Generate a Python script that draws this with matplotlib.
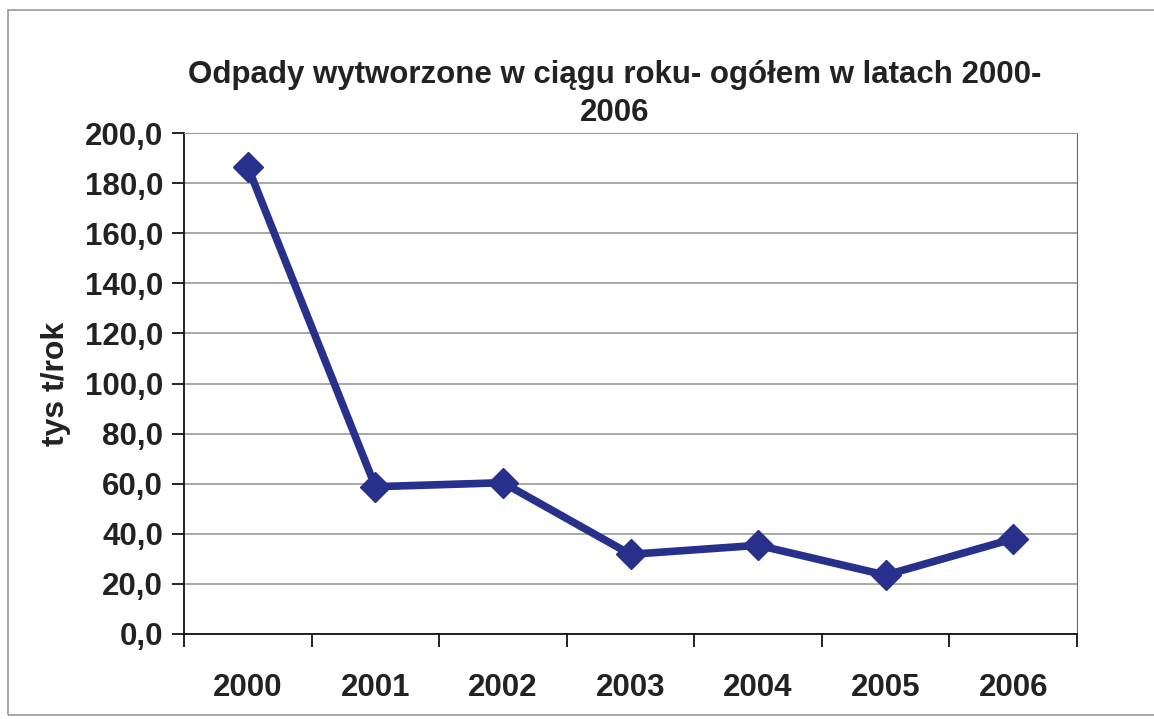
import matplotlib.pyplot as plt
import numpy as np
from matplotlib.patches import Rectangle
from matplotlib.ticker import FuncFormatter, MultipleLocator

years = ['2000', '2001', '2002', '2003', '2004', '2005', '2006']
waste = [186.5, 58.8, 60.4, 31.8, 35.4, 23.5, 38.0]  # tys t/rok

plt.rcParams['font.family'] = ['Liberation Sans', 'DejaVu Sans']

fig = plt.figure(figsize=(11.54, 7.19), dpi=100)
ax = fig.add_axes([184/1154, 1-634/719, (1077-184)/1154, (634-133)/719])

# outer frame of the chart object
fig.patches.append(Rectangle((8/1154, 4/719), 1.2, 1-14/719, transform=fig.transFigure,
                             fill=False, edgecolor='#9a9a9a', linewidth=1.2))

x = np.arange(len(years))
ax.plot(x, waste, color='#27308a', linewidth=5.5, marker='D', markersize=15,
        markerfacecolor='#27308a', markeredgecolor='#27308a', zorder=3)

ax.set_xlim(-0.5, len(years) - 0.5)
ax.set_ylim(0, 200)
ax.yaxis.set_major_locator(MultipleLocator(20))
ax.yaxis.set_major_formatter(FuncFormatter(lambda v, p: f'{v:.1f}'.replace('.', ',')))
ax.grid(axis='y', color='#a8a8a8', linewidth=1.4)
ax.set_axisbelow(True)

ax.set_xticks(x)
ax.set_xticklabels(years)
ax.set_xticks(np.arange(len(years) + 1) - 0.5, minor=True)
ax.tick_params(axis='x', which='major', length=0, pad=28, labelsize=22.5)
ax.tick_params(axis='x', which='minor', length=9, width=1.2, direction='out')
ax.tick_params(axis='y', length=9, width=1.2, direction='out', pad=6, labelsize=22.5)
for lbl in ax.get_xticklabels() + ax.get_yticklabels():
    lbl.set_fontweight('bold')
    lbl.set_color('#222222')

ax.spines['left'].set_color('#111111')
ax.spines['bottom'].set_color('#111111')
ax.spines['left'].set_linewidth(1.3)
ax.spines['bottom'].set_linewidth(1.3)
ax.spines['top'].set_color('#9a9a9a')
ax.spines['right'].set_color('#6a6a6a')

ax.set_ylabel('tys t/rok', fontsize=23, fontweight='bold', color='#222222', labelpad=10)
fig.text(615/1154, 1-75/719, 'Odpady wytworzone w ciągu roku- ogółem w latach 2000-',
         ha='center', va='center', fontsize=22.5, fontweight='bold', color='#222222')
fig.text(615/1154, 1-113/719, '2006', ha='center', va='center',
         fontsize=22.5, fontweight='bold', color='#222222')

fig.savefig('out.png', dpi=100)
